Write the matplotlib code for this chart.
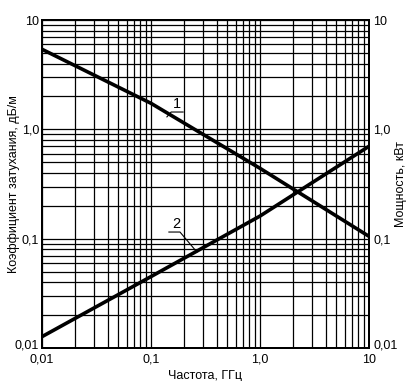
import matplotlib
matplotlib.use("Agg")
import matplotlib.pyplot as plt
import matplotlib.transforms as mtransforms
from matplotlib.ticker import LogLocator, FixedLocator, FixedFormatter, NullFormatter

plt.rcParams['font.family'] = ['Liberation Sans', 'DejaVu Sans']

# frequency, GHz
freq = [0.01, 0.1, 1.0, 10.0]
# curve 1 - attenuation, dB/m
atten = [5.4, 1.73, 0.44, 0.105]
# curve 2 - power, kW
power = [0.0127, 0.045, 0.161, 0.70]

tick_vals = [0.01, 0.1, 1.0, 10.0]
tick_text = ['0,01', '0,1', '1,0', '10']

fig = plt.figure(figsize=(4.10, 3.81), dpi=100)
ax = fig.add_axes([0.1024, 0.0866, 0.7976, 0.8609])

ax.set_xscale('log')
ax.set_yscale('log')
ax.set_xlim(0.01, 10)
ax.set_ylim(0.01, 10)

# grid on every decade and every minor step
ax.xaxis.set_major_locator(FixedLocator(tick_vals))
ax.yaxis.set_major_locator(FixedLocator(tick_vals))
ax.xaxis.set_major_formatter(FixedFormatter(tick_text))
ax.yaxis.set_major_formatter(FixedFormatter(tick_text))
ax.xaxis.set_minor_locator(LogLocator(base=10, subs=range(2, 10)))
ax.yaxis.set_minor_locator(LogLocator(base=10, subs=range(2, 10)))
ax.xaxis.set_minor_formatter(NullFormatter())
ax.yaxis.set_minor_formatter(NullFormatter())
ax.grid(True, which='both', color='black', lw=0.9)
ax.tick_params(which='both', length=0, labelsize=9, pad=2)
ax.tick_params(axis='x', pad=4)

for s in ax.spines.values():
    s.set_linewidth(1.4)

ax.plot(freq, atten, color='black', lw=2.6, solid_capstyle='butt', zorder=3)
ax.plot(freq, power, color='black', lw=2.6, solid_capstyle='butt', zorder=3)

# curve labels with underline and leader
ax.text(0.174, 1.47, '1', ha='center', va='bottom', fontsize=10.5)
ax.plot([0.140, 0.153, 0.197], [1.30, 1.44, 1.44], color='black', lw=0.8, zorder=3)
ax.text(0.170, 0.117, '2', ha='center', va='bottom', fontsize=10.5)
ax.plot([0.146, 0.1845, 0.264], [0.115, 0.115, 0.0754], color='black', lw=0.8, zorder=3)

ax.set_xlabel('Частота, ГГц', fontsize=9, labelpad=3)
ax.set_ylabel('Коэффициент затухания, дБ/м', fontsize=9)
ax.yaxis.set_label_coords(-0.066, 0.5)

ax2 = ax.twinx()
ax2.set_yscale('log')
ax2.set_ylim(0.01, 10)
ax2.yaxis.set_major_locator(FixedLocator(tick_vals))
ax2.yaxis.set_major_formatter(FixedFormatter(tick_text))
ax2.yaxis.set_minor_formatter(NullFormatter())
ax2.tick_params(which='both', length=0, labelsize=9, pad=3)
ax2.set_ylabel('Мощность, кВт', fontsize=9, rotation=90)
ax2.yaxis.set_label_coords(1.078, 0.5)
for s in ax2.spines.values():
    s.set_linewidth(1.4)

# lift the bottom y labels a little so they clear the x label
up = mtransforms.ScaledTranslation(0, 3 / 72, fig.dpi_scale_trans)
for a in (ax, ax2):
    for lab in a.get_yticklabels():
        if lab.get_text() == '0,01':
            lab.set_transform(lab.get_transform() + up)

fig.savefig('out.png', dpi=100)
